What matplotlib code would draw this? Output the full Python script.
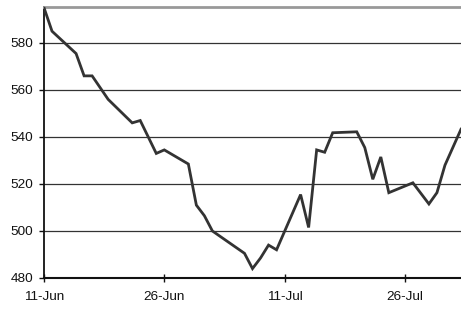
import datetime as dt
import matplotlib
matplotlib.use('Agg')
import matplotlib.pyplot as plt
import matplotlib.dates as mdates

# data (trading days, 2009-style Jun-Aug)
dates = ['06-11', '06-12', '06-15', '06-16', '06-17', '06-19', '06-22', '06-23',
         '06-25', '06-26', '06-29', '06-30', '07-01', '07-02', '07-06', '07-07',
         '07-08', '07-09', '07-10', '07-13', '07-14', '07-15', '07-16', '07-17',
         '07-20', '07-21', '07-22', '07-23', '07-24', '07-27', '07-29', '07-30',
         '07-31', '08-02']
values = [595, 585, 575.5, 566, 566, 556, 546, 547,
          533, 534.5, 528.5, 511, 506.5, 500, 490.5, 484,
          488.5, 494, 492, 515.5, 501.5, 534.5, 533.5, 541.8,
          542.2, 535.5, 522, 531.5, 516.3, 520.5, 511.5, 516.3,
          528, 543.3]
xtick_dates = ['06-11', '06-26', '07-11', '07-26']
yticks = [480, 500, 520, 540, 560, 580]

def to_date(s):
    m, d = s.split('-')
    return dt.date(2009, int(m), int(d))

x = [to_date(s) for s in dates]

plt.rcParams['font.family'] = ['Liberation Sans', 'DejaVu Sans']
fig = plt.figure(figsize=(4.61, 3.11), dpi=100)
ax = fig.add_axes([44 / 461, 1 - 278 / 311, 1 - 44 / 461, (278 - 7) / 311])

for y in yticks[1:]:
    ax.axhline(y, color='#333333', lw=0.9, zorder=1)
ax.plot(x, values, color='#333333', lw=2, zorder=3, solid_joinstyle='miter')

ax.set_ylim(480, 595.3)
ax.set_xlim(to_date('06-11'), to_date('08-02'))
ax.set_yticks(yticks)
ax.set_xticks([to_date(s) for s in xtick_dates])
ax.xaxis.set_major_formatter(mdates.DateFormatter('%-d-%b'))

ax.tick_params(axis='y', direction='out', length=3.5, width=1, pad=4.5,
               labelsize=9.7, colors='#111111')
ax.tick_params(axis='x', direction='inout', length=6, width=1, pad=6,
               labelsize=9.7, colors='#111111')

ax.spines['right'].set_visible(False)
ax.spines['top'].set_color('#999999')
ax.spines['top'].set_linewidth(2)
ax.spines['left'].set_color('#111111')
ax.spines['left'].set_linewidth(1.3)
ax.spines['bottom'].set_color('#111111')
ax.spines['bottom'].set_linewidth(1.5)

fig.savefig('out.png', dpi=100)
